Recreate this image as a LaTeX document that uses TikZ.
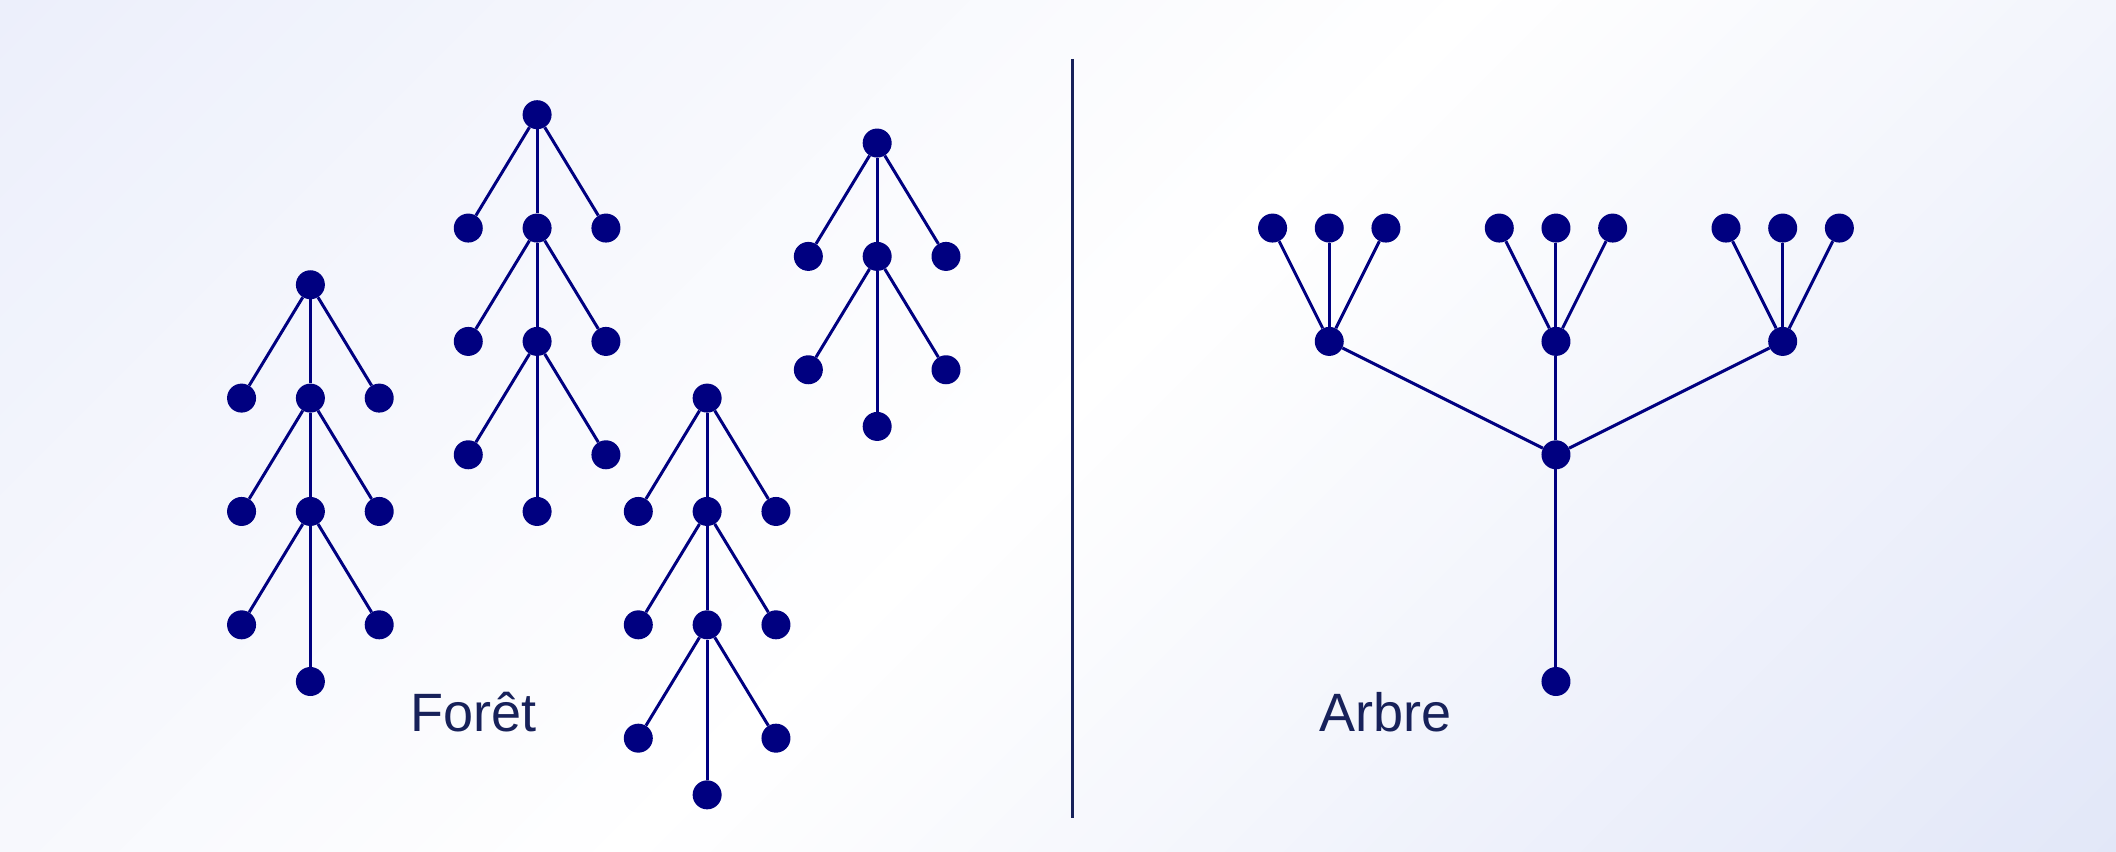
\documentclass[tikz,border=0pt]{standalone}
\usepackage{fontspec}
\setmainfont{Liberation Sans}
\definecolor{navyd}{HTML}{000080}
\definecolor{inkd}{HTML}{17215A}
\definecolor{bgA}{HTML}{ECEFFB}
\definecolor{bgB}{HTML}{E2E7F8}
\tikzset{
  dot/.style={circle,fill=navyd,inner sep=0pt,minimum size=29pt},
  edge/.style={draw=navyd,line width=3pt},
  divider/.style={draw=inkd,line width=3pt},
  lbl/.style={text=inkd,font=\fontsize{54}{64}\selectfont,anchor=base,inner sep=0pt}
}
\newcommand\foresttree[4]{%
  \foreach \i in {1,...,#4}{
    \node[dot] (#1s\i) at (#2,{#3+84*(\i-1)}) {};
    \node[dot] (#1l\i) at ({#2-51},{#3+84*\i}) {};
    \node[dot] (#1r\i) at ({#2+51},{#3+84*\i}) {};
    \draw[edge] (#1s\i) -- (#1l\i);
    \draw[edge] (#1s\i) -- (#1r\i);
  }
  \foreach \i in {2,...,#4}{
    \pgfmathtruncatemacro\prv{\i-1}
    \draw[edge] (#1s\prv) -- (#1s\i);
  }
  \node[dot] (#1end) at (#2,{#3+84*(#4-1)+126}) {};
  \draw[edge] (#1s#4) -- (#1end);
}
\begin{document}
\begin{tikzpicture}[x=1.3495pt,y=-1.3495pt]
% diagonal background gradient (top-left -> white -> bottom-right)
\begin{scope}
\clip (0,0) rectangle (1568,631.34);
\foreach \i in {0,...,149}{
  \pgfmathsetmacro\ua{(\i/150-0.5)*1099.7}
  \pgfmathsetmacro\ub{((\i+1.4)/150-0.5)*1099.7}
  \pgfmathsetmacro\tm{(\i+0.5)/150}
  \pgfmathsetmacro\pa{max(0,100*(1-2*\tm))}
  \pgfmathsetmacro\pb{max(0,100*(2*\tm-1))}
  \colorlet{stripecol}{bgB!\pb!white}
  \fill[bgA!\pa!stripecol]
    ({784+\ua+900},{315.67+\ua-900}) -- ({784+\ub+900},{315.67+\ub-900})
    -- ({784+\ub-900},{315.67+\ub+900}) -- ({784+\ua-900},{315.67+\ua+900}) -- cycle;
}
\end{scope}
\useasboundingbox (0,0) rectangle (1568,631.34);

% forest
\foresttree{a}{230}{211}{3}
\foresttree{b}{398}{85}{3}
\foresttree{c}{650}{106}{2}
\foresttree{d}{524}{295}{3}

% divider
\coordinate (dtop) at (794.6,43.7);
\coordinate (dbot) at (794.6,605.9);
\draw[divider] (dtop) -- (dbot);

% tree
\node[dot] (B) at (1153,505) {};
\node[dot] (J) at (1153,337) {};
\draw[edge] (J) -- (B);
\foreach \k/\mx in {1/985,2/1153,3/1321}{
  \node[dot] (M\k) at (\mx,253) {};
  \draw[edge] (J) -- (M\k);
  \foreach \j/\dx in {1/-42,2/0,3/42}{
    \node[dot] (L\k\j) at ({\mx+\dx},169) {};
    \draw[edge] (M\k) -- (L\k\j);
  }
}

% labels
\node[lbl] (tforet) at (351,541.7) {Forêt};
\node[lbl] (tarbre) at (1027,541.7) {Arbre};
\end{tikzpicture}
\end{document}
